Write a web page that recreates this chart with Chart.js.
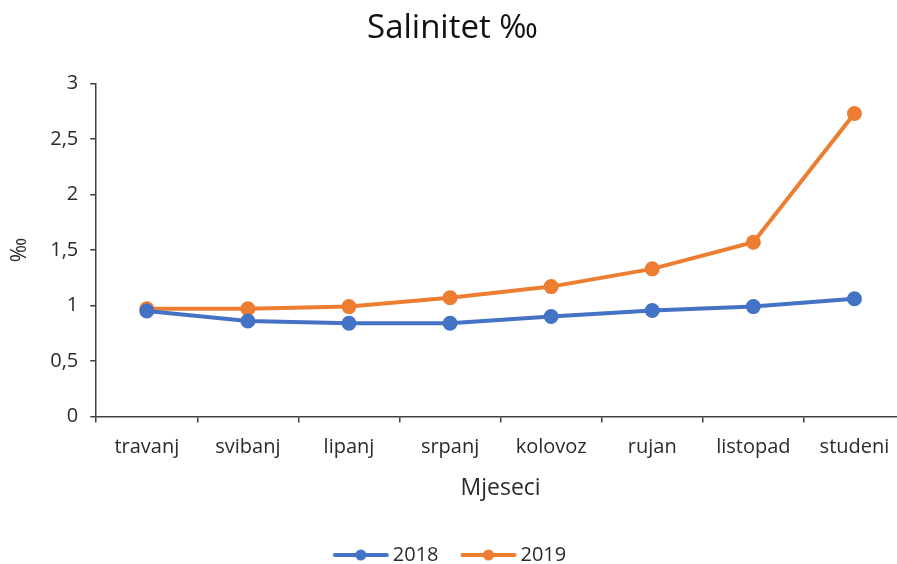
<!DOCTYPE html>
<html>
<head>
<meta charset="utf-8">
<script src="https://cdn.jsdelivr.net/npm/chart.js@4.4.0/dist/chart.umd.min.js"></script>
<style>
  html, body { margin: 0; padding: 0; background: #fff; overflow: hidden; }
  /* the plot runs a few pixels past the right edge, as in the original */
  #wrap { width: 897px; height: 564px; overflow: hidden; }
</style>
</head>
<body>
<div id="wrap"><canvas id="myChart" width="905" height="564"></canvas></div>
<script>
const months = ["travanj", "svibanj", "lipanj", "srpanj", "kolovoz", "rujan", "listopad", "studeni"];
const values2018 = [0.95, 0.86, 0.84, 0.84, 0.90, 0.955, 0.99, 1.06];
const values2019 = [0.97, 0.97, 0.99, 1.07, 1.17, 1.33, 1.57, 2.73];
const seriesNames = ["2018", "2019"];
const seriesColors = ["#4472C4", "#ED7D31"];

const FONT = "'Open Sans', 'Noto Sans', sans-serif";
const TEXT = '#2b2b2b';

// small line+dot icon for the legend
function legendIcon(color) {
    const c = document.createElement('canvas');
    c.width = 58; c.height = 14;
    const g = c.getContext('2d');
    g.strokeStyle = color;
    g.lineWidth = 4;
    g.lineCap = 'round';
    g.beginPath();
    g.moveTo(3, 7);
    g.lineTo(55, 7);
    g.stroke();
    g.fillStyle = color;
    g.beginPath();
    g.arc(29, 7, 5.5, 0, Math.PI * 2);
    g.fill();
    return c;
}

const ctx = document.getElementById('myChart').getContext('2d');
const datasets = [values2018, values2019].map((vals, i) => ({
    label: seriesNames[i],
    data: vals,
    borderColor: seriesColors[i],
    backgroundColor: seriesColors[i],
    borderWidth: 4,
    pointRadius: 5.5,
    pointHoverRadius: 5.5,
    tension: 0
}));

new Chart(ctx, {
    type: 'line',
    data: { labels: months, datasets: datasets },
    options: {
        responsive: false,
        animation: false,
        layout: { autoPadding: false, padding: { left: 0, right: 0, top: 0, bottom: -11 } },
        plugins: {
            title: {
                display: true,
                text: 'Salinitet ‰',
                color: '#111',
                font: { family: FONT, size: 33, weight: 'normal' },
                padding: { top: 9, bottom: 35 }
            },
            legend: {
                position: 'bottom',
                labels: {
                    color: TEXT,
                    font: { family: FONT, size: 20 },
                    usePointStyle: true,
                    pointStyleWidth: 44,
                    boxHeight: 14,
                    padding: 28,
                    generateLabels: chart => chart.data.datasets.map((ds, i) => ({
                        text: ds.label,
                        pointStyle: legendIcon(ds.borderColor),
                        fillStyle: ds.borderColor,
                        strokeStyle: ds.borderColor,
                        fontColor: TEXT,
                        datasetIndex: i,
                        hidden: false
                    }))
                }
            },
            tooltip: { enabled: false }
        },
        scales: {
            x: {
                offset: true,
                afterFit: scale => { scale.paddingRight = 0; },
                grid: {
                    offset: true,
                    drawOnChartArea: false,
                    drawTicks: true,
                    tickLength: 6,
                    color: '#404040',
                    lineWidth: 1.5
                },
                border: { color: '#404040', width: 1.5 },
                ticks: { color: TEXT, font: { family: FONT, size: 20 }, padding: 13, maxRotation: 0 },
                title: {
                    display: true,
                    text: 'Mjeseci',
                    color: TEXT,
                    font: { family: FONT, size: 23 },
                    padding: { top: 2, bottom: 15 }
                }
            },
            y: {
                min: 0,
                max: 3,
                grid: {
                    drawOnChartArea: false,
                    drawTicks: true,
                    tickLength: 6,
                    color: '#404040',
                    lineWidth: 1.5
                },
                border: { color: '#404040', width: 1.5 },
                ticks: {
                    stepSize: 0.5,
                    color: TEXT,
                    font: { family: FONT, size: 20 },
                    padding: 12,
                    callback: v => String(v).replace('.', ',')
                },
                title: {
                    display: true,
                    text: '‰',
                    color: TEXT,
                    font: { family: FONT, size: 21 },
                    padding: { top: 7, bottom: 6 }
                }
            }
        }
    }
});
</script>
</body>
</html>
